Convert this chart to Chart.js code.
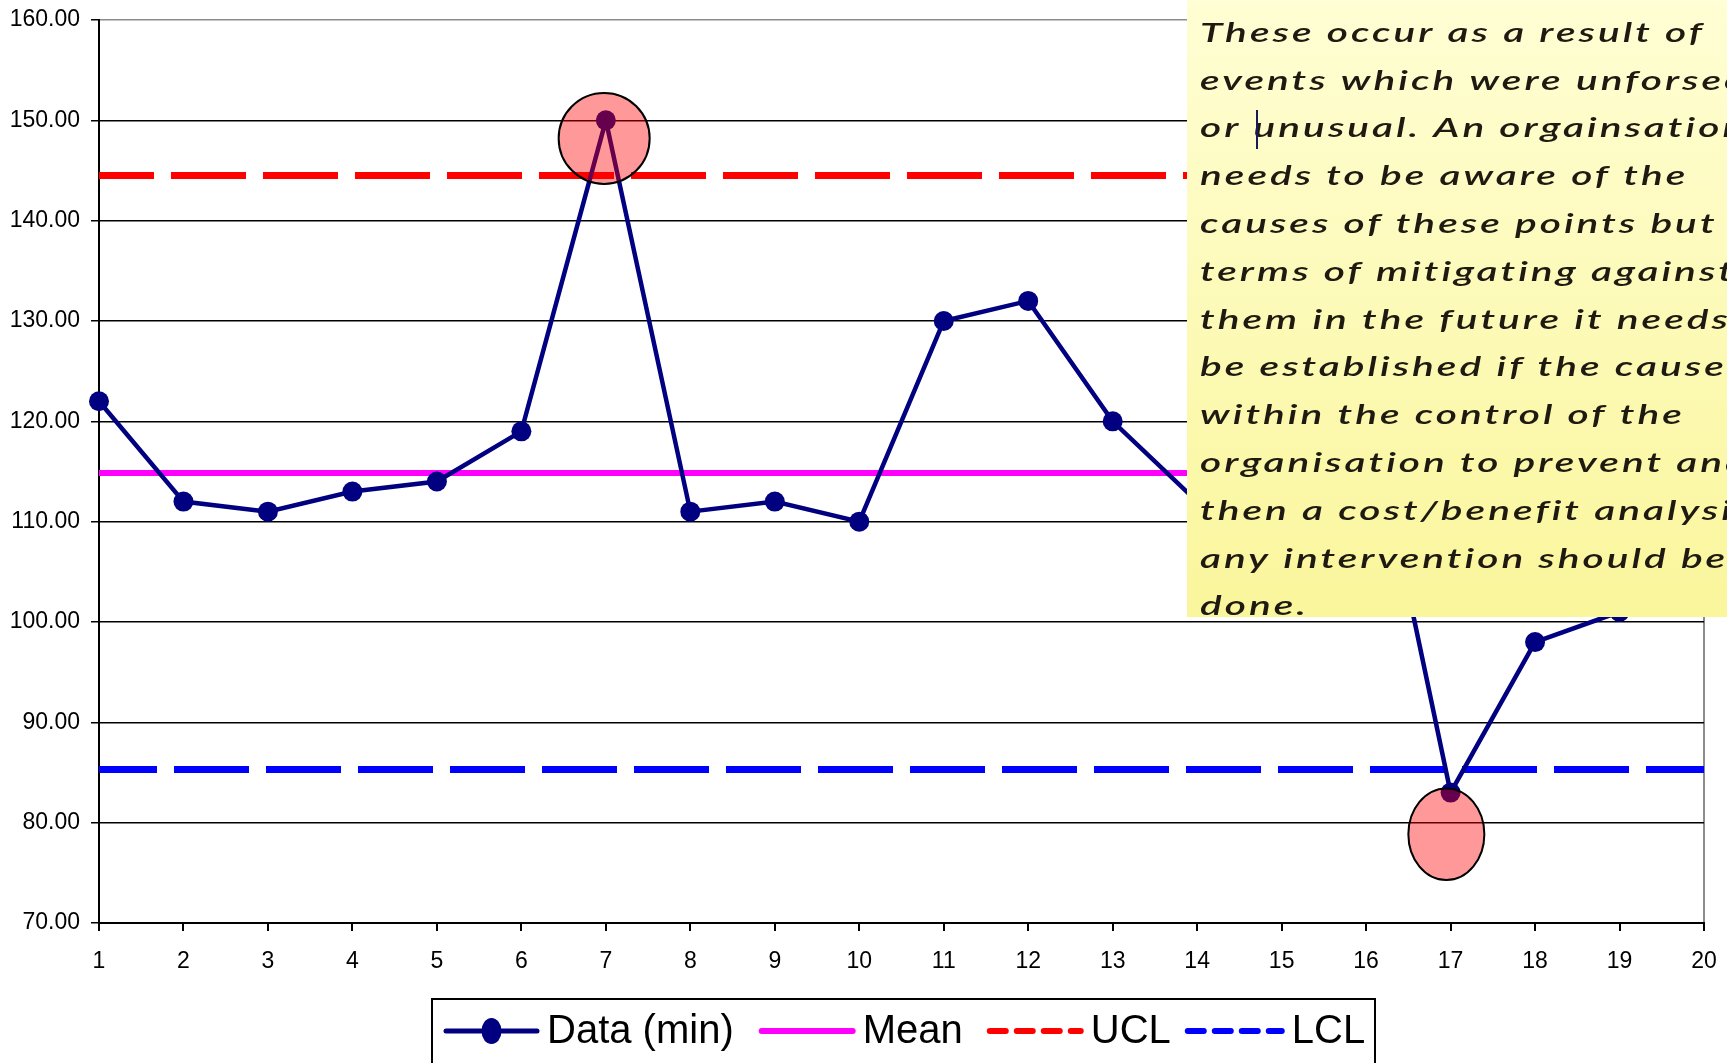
<!DOCTYPE html>
<html>
<head>
<meta charset="utf-8">
<title>Control chart – Data (min)</title>
<script src="https://cdn.jsdelivr.net/npm/chart.js@4.4.1/dist/chart.umd.min.js"></script>
<style>
  html, body { margin: 0; padding: 0; background: #fff; overflow: hidden; }
  #wrap { width: 1727px; height: 1063px; position: relative; }
  canvas { display: block; }
</style>
</head>
<body>
<div id="wrap"><canvas id="chart" width="1727" height="1063"></canvas></div>
<script>
// ---- data -------------------------------------------------------------
const categories = ['1','2','3','4','5','6','7','8','9','10','11','12','13','14','15','16','17','18','19','20'];
const dataMin    = [122, 112, 111, 113, 114, 119, 150, 111, 112, 110, 130, 132, 120, 112, 116, 123, 83, 98, 101, 108];
const meanLine   = [114.85, 114.85, 114.85, 114.85, 114.85, 114.85, 114.85, 114.85, 114.85, 114.85,
                    114.85, 114.85, 114.85, 114.85, 114.85, 114.85, 114.85, 114.85, 114.85, 114.85];
const uclLine    = [144.5, 144.5, 144.5, 144.5, 144.5, 144.5, 144.5, 144.5, 144.5, 144.5,
                    144.5, 144.5, 144.5, 144.5, 144.5, 144.5, 144.5, 144.5, 144.5, 144.5];
const lclLine    = [85.3, 85.3, 85.3, 85.3, 85.3, 85.3, 85.3, 85.3, 85.3, 85.3,
                    85.3, 85.3, 85.3, 85.3, 85.3, 85.3, 85.3, 85.3, 85.3, 85.3];
const seriesNames = ['Data (min)', 'Mean', 'UCL', 'LCL'];
const yTickMin = 70, yTickMax = 160, yTickStep = 10;

// out-of-control points that get a highlight ring (category, centre value)
const highlightCats   = [7, 17];
const highlightValues = [148.2, 78.85];

const noteLines = [
  'These occur as a result of',
  'events which were unforseen',
  'or unusual. An orgainsation',
  'needs to be aware of the',
  'causes of these points but in',
  'terms of mitigating against',
  'them in the future it needs to',
  'be established if the cause is',
  'within the control of the',
  'organisation to prevent and',
  'then a cost/benefit analysis of',
  'any intervention should be',
  'done.'
];

// ---- styling ----------------------------------------------------------
const AXIS_FONT = "'Liberation Sans', Arial, sans-serif";
const ringStyle = [
  { dx: -0.02, rx: 45.5, ry: 45.5 },
  { dx: -0.05, rx: 38,   ry: 45.8 }
];

// highlight rings drawn over the series
const ringPlugin = {
  id: 'rings',
  afterDatasetsDraw(chart) {
    const { ctx, scales: { x, y } } = chart;
    ctx.save();
    highlightCats.forEach((cat, i) => {
      const idx = categories.indexOf(String(cat));
      const cx = x.getPixelForValue(idx + ringStyle[i].dx);
      const cy = y.getPixelForValue(highlightValues[i]);
      ctx.beginPath();
      ctx.ellipse(cx, cy, ringStyle[i].rx, ringStyle[i].ry, 0, 0, Math.PI * 2);
      ctx.fillStyle = 'rgba(255,0,0,0.4)';
      ctx.fill();
      ctx.lineWidth = 2;
      ctx.strokeStyle = '#000';
      ctx.stroke();
    });
    ctx.restore();
  }
};

// boxed legend along the bottom
const legendPlugin = {
  id: 'boxLegend',
  afterDraw(chart) {
    const ctx = chart.ctx;
    const top = 999, left = 432, right = 1375, cy = 1031;
    ctx.save();
    ctx.lineWidth = 2;
    ctx.strokeStyle = '#000';
    ctx.strokeRect(left, top, right - left, 120);
    ctx.font = '40px ' + AXIS_FONT;
    ctx.textBaseline = 'middle';
    ctx.fillStyle = '#000';
    const gaps = [25, 24, 14, 0];
    let xPos = 443;
    chart.data.datasets.forEach((ds, i) => {
      const len = i === 3 ? 100 : 97;
      ctx.save();
      ctx.strokeStyle = ds.borderColor;
      ctx.lineWidth = i === 0 ? 5 : 6;
      ctx.lineCap = 'round';
      ctx.setLineDash(ds.borderDash ? [16, 11] : []);
      ctx.beginPath();
      ctx.moveTo(xPos + 3, cy);
      ctx.lineTo(xPos + len - 3, cy);
      ctx.stroke();
      if (i === 0) {
        ctx.beginPath();
        ctx.fillStyle = ds.backgroundColor;
        ctx.ellipse(xPos + len / 2, cy, 10, 13, 0, 0, Math.PI * 2);
        ctx.fill();
      }
      ctx.restore();
      const tx = xPos + len + 7;
      ctx.fillText(ds.label, tx, cy + 1);
      xPos = tx + ctx.measureText(ds.label).width + gaps[i];
    });
    ctx.restore();
  }
};

// yellow comment note in the upper right
const notePlugin = {
  id: 'note',
  afterDraw(chart) {
    const ctx = chart.ctx;
    const nx = 1187, ny = 0, nw = 560, nh = 617;
    ctx.save();
    const g = ctx.createLinearGradient(0, ny, 0, ny + nh);
    g.addColorStop(0, '#FFFED4');
    g.addColorStop(1, '#FAF69C');
    ctx.fillStyle = g;
    ctx.fillRect(nx, ny, nw, nh);
    ctx.beginPath();
    ctx.rect(nx, ny, nw, nh);
    ctx.clip();

    ctx.font = 'italic 600 27px Lato, sans-serif';
    if ('letterSpacing' in ctx) ctx.letterSpacing = '2px';
    const w0 = ctx.measureText(noteLines[0]).width;
    const sx = 505 / w0;
    ctx.fillStyle = '#1e1a12';
    ctx.textBaseline = 'middle';
    noteLines.forEach((line, i) => {
      ctx.save();
      ctx.translate(1200, 33 + i * 47.8);
      ctx.scale(sx, 1);
      ctx.fillText(line, 0, 0);
      ctx.restore();
    });
    // text cursor in the third line
    ctx.strokeStyle = '#1a1a5a';
    ctx.lineWidth = 2;
    ctx.beginPath();
    ctx.moveTo(1257, 110);
    ctx.lineTo(1257, 149);
    ctx.stroke();
    ctx.restore();
  }
};

new Chart(document.getElementById('chart'), {
  type: 'line',
  data: {
    labels: categories,
    datasets: [
      { label: seriesNames[0], data: dataMin, borderColor: '#000080', backgroundColor: '#000080',
        borderWidth: 4.5, pointRadius: 10, pointBorderWidth: 0, pointBackgroundColor: '#000080', tension: 0 },
      { label: seriesNames[1], data: meanLine, borderColor: '#FF00FF', backgroundColor: '#FF00FF',
        borderWidth: 6, pointRadius: 0 },
      { label: seriesNames[2], data: uclLine, borderColor: '#FF0000', backgroundColor: '#FF0000',
        borderWidth: 7, pointRadius: 0, borderDash: [75, 17], borderDashOffset: 20 },
      { label: seriesNames[3], data: lclLine, borderColor: '#0000FF', backgroundColor: '#0000FF',
        borderWidth: 7, pointRadius: 0, borderDash: [75, 17], borderDashOffset: 17 }
    ]
  },
  options: {
    responsive: false,
    animation: false,
    devicePixelRatio: 1,
    layout: { padding: { left: 0, top: 20, right: 23, bottom: 0 } },
    plugins: { legend: { display: false }, tooltip: { enabled: false } },
    scales: {
      x: {
        type: 'category',
        offset: false,
        grid: {
          drawOnChartArea: true,
          color: c => (c.index === categories.length - 1 ? '#8c8c8c' : 'rgba(0,0,0,0)'),
          tickColor: '#000',
          tickLength: 8,
          lineWidth: 2
        },
        border: { display: true, color: '#000', width: 2 },
        ticks: { color: '#000', font: { family: AXIS_FONT, size: 23 }, padding: 17,
                 maxRotation: 0, autoSkip: false },
        afterFit: s => { s.height = 140; s.paddingLeft = 0; s.paddingRight = 0; }
      },
      y: {
        min: yTickMin,
        max: yTickMax,
        grid: {
          color: c => (c.tick && c.tick.value === yTickMax ? '#8c8c8c' : '#000'),
          lineWidth: 1.5,
          tickColor: '#000',
          tickLength: 8
        },
        border: { display: true, color: '#000', width: 2 },
        ticks: { stepSize: yTickStep, color: '#000', font: { family: AXIS_FONT, size: 23 }, padding: 11,
                 callback: v => Number(v).toFixed(2) },
        afterFit: s => { s.width = 99; s.paddingTop = 0; s.paddingBottom = 0; }
      }
    }
  },
  plugins: [ringPlugin, notePlugin, legendPlugin]
});
</script>
</body>
</html>
